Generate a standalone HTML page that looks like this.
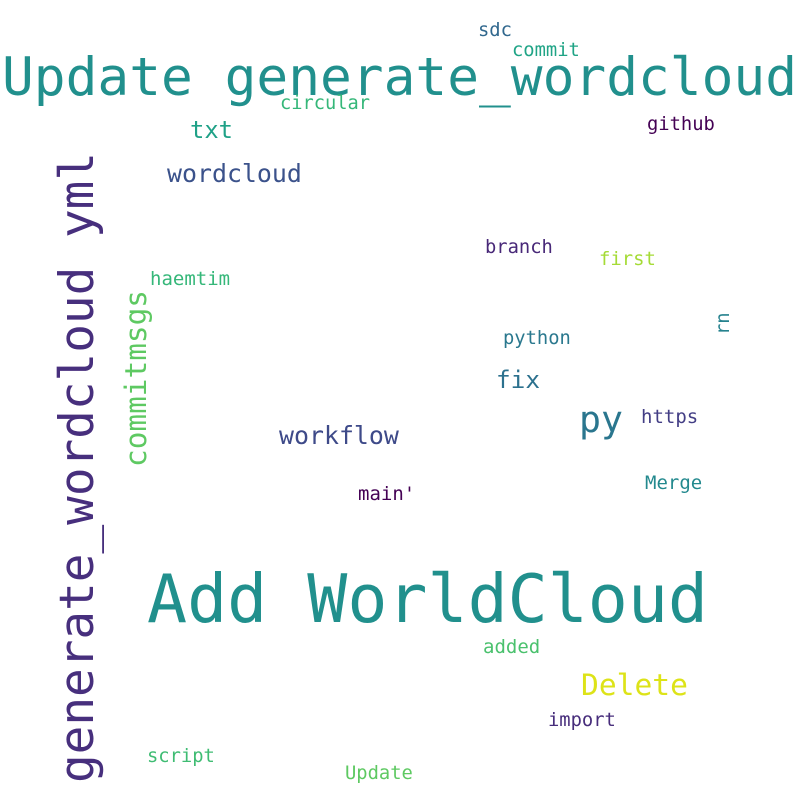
<!DOCTYPE html>
<html><head><meta charset="utf-8"><style>
html,body{margin:0;padding:0;background:#fff;}
svg{display:block;}
text{font-family:"DejaVu Sans Mono","Liberation Mono",monospace;}
</style></head><body>
<svg width="800" height="800" viewBox="0 0 800 800">
<rect width="800" height="800" fill="#fff"/>
<text x="2" y="95" font-size="52.8" fill="#21908d" textLength="795" lengthAdjust="spacingAndGlyphs">Update generate_wordcloud</text>
<text x="147" y="622" font-size="66.6" fill="#21908d" textLength="561" lengthAdjust="spacingAndGlyphs">Add WorldCloud</text>
<text transform="translate(93,783) rotate(-90)" font-size="47.6" fill="#472f7d" textLength="631" lengthAdjust="spacingAndGlyphs">generate_wordcloud yml</text>
<text transform="translate(146,467) rotate(-90)" font-size="29.4" fill="#5ec962" textLength="177" lengthAdjust="spacingAndGlyphs">commitmsgs</text>
<text transform="translate(729,335) rotate(-90)" font-size="18.8" fill="#26828e">rn</text>
<text x="478" y="36" font-size="18.8" fill="#31688e">sdc</text>
<text x="512" y="56" font-size="18.8" fill="#20a486">commit</text>
<text x="280" y="109" font-size="18.7" fill="#35b779">circular</text>
<text x="190" y="138" font-size="23.8" fill="#1fa187">txt</text>
<text x="647" y="130" font-size="18.8" fill="#440154">github</text>
<text x="167" y="182" font-size="24.9" fill="#3b528b">wordcloud</text>
<text x="485" y="253" font-size="18.8" fill="#482878">branch</text>
<text x="599" y="265" font-size="18.9" fill="#a5db36">first</text>
<text x="150" y="285" font-size="19" fill="#35b779">haemtim</text>
<text x="503" y="344" font-size="18.8" fill="#2a788e">python</text>
<text x="496" y="388" font-size="24.4" fill="#2c718e">fix</text>
<text x="579" y="432" font-size="36.5" fill="#2a768e">py</text>
<text x="641" y="423" font-size="19" fill="#433e85">https</text>
<text x="279" y="444" font-size="24.9" fill="#3e4a89">workflow</text>
<text x="645" y="489" font-size="19" fill="#23898e">Merge</text>
<text x="358" y="500" font-size="19" fill="#440154">main'</text>
<text x="483" y="653" font-size="19" fill="#4ac16d">added</text>
<text x="581" y="695" font-size="29.6" fill="#dde318">Delete</text>
<text x="548" y="726" font-size="18.8" fill="#472d7b">import</text>
<text x="147" y="762" font-size="18.8" fill="#3fbc73">script</text>
<text x="345" y="779" font-size="18.8" fill="#5ec962">Update</text>
</svg>
</body></html>
